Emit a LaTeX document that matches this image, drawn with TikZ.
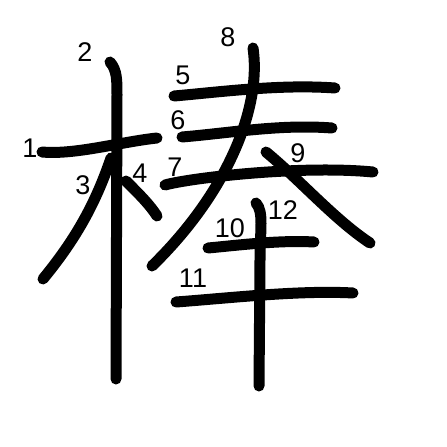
\documentclass[tikz,border=0pt]{standalone}
\usepackage{fontspec}
\setmainfont{Liberation Sans}
\usetikzlibrary{positioning}

\begin{document}
\begin{tikzpicture}[x=1pt,y=-1pt,line cap=round,line join=round,
  stroke/.style={line width=11pt,black},
  num/.style={font=\fontsize{27}{27}\selectfont,inner sep=0pt}]
 \useasboundingbox[fill=white] (0,0) rectangle (447,447);
 % left part
 \draw[stroke] (42,152) .. controls (75,155) and (120,142) .. (157,138);
 \draw[stroke] (110,62) .. controls (117,70) and (117,80) .. (117,95) -- (116,379);
 \draw[stroke] (111,158) .. controls (95,205) and (75,240) .. (43,279);
 \draw[stroke] (126,181) .. controls (140,195) and (150,205) .. (157,216);
 % right part
 \draw[stroke] (174,96) .. controls (220,92) and (280,84) .. (335,88);
 \draw[stroke] (182,137) .. controls (230,133) and (280,124) .. (332,128);
 \draw[stroke] (165,185) .. controls (190,178) and (300,165) .. (373,172);
 \draw[stroke] (253,48) .. controls (262,110) and (225,195) .. (152,266);
 \draw[stroke] (266,152) .. controls (300,180) and (335,220) .. (370,243);
 \draw[stroke] (208,248) .. controls (240,245) and (280,240) .. (314,242);
 \draw[stroke] (176,302) .. controls (230,298) and (300,290) .. (353,293);
 \draw[stroke] (256,203) .. controls (264,212) and (260,230) .. (260,260) -- (259,386);
 % stroke numbers
 \foreach \i/\x/\y in {1/30/148,2/85/52,3/83/185,4/140/173,5/183/75,6/178/120,
   7/175/167,8/228/37,9/298/153,10/230/228,11/193/278,12/283/210}
  \node[num] (n\i) at (\x,\y) {\i};
\end{tikzpicture}
\end{document}
